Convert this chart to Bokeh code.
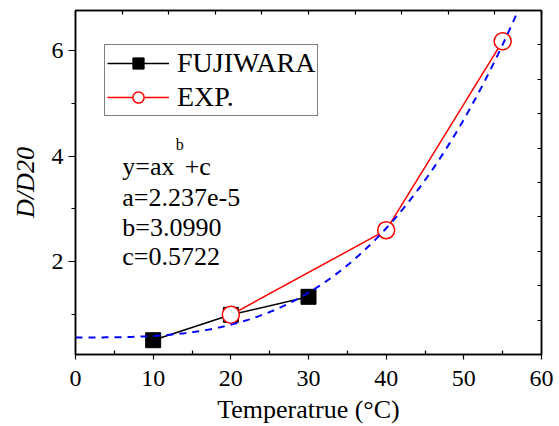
import numpy as np
from bokeh.plotting import figure
from bokeh.models import LinearAxis, FixedTicker, Legend, LegendItem, Label, Range1d
from bokeh.embed import file_html
from bokeh.resources import INLINE

# ---- data ----
fuji_t = [10, 20, 30]
fuji_r = [0.52, 1.0, 1.34]
exp_t = [20, 40, 55]
exp_r = [1.0, 2.6, 6.17]
# fitted model shown on the chart: y = a*x^b + c
fit_a = 2.237e-5
fit_b = 3.0990
fit_c = 0.5722
x_ticks = [0, 10, 20, 30, 40, 50, 60]
y_ticks = [2, 4, 6]
x_lim = (0, 60)
y_lim = (0.25, 6.75)

FONT = "Liberation Serif"

p = figure(width=559, height=426,
           x_range=Range1d(*x_lim), y_range=Range1d(*y_lim),
           output_backend="svg", toolbar_location=None,
           min_border_left=75, min_border_right=18,
           min_border_top=10, min_border_bottom=72)
p.xgrid.visible = False
p.ygrid.visible = False
p.outline_line_color = "black"
p.outline_line_width = 1.5
p.background_fill_color = "white"
p.border_fill_color = "white"

# series
l1 = p.line(fuji_t, fuji_r, line_color="black", line_width=1.5)
s1 = p.scatter(fuji_t, fuji_r, marker="square", size=15,
               fill_color="black", line_color="black")
l2 = p.line(exp_t, exp_r, line_color="red", line_width=1.5)
s2 = p.scatter(exp_t, exp_r, marker="circle", size=17,
               fill_color="white", line_color="red", line_width=1.5)

fit_x = np.linspace(x_lim[0], x_lim[1], 301)
fit_y = fit_a * fit_x ** fit_b + fit_c
p.line(fit_x, fit_y, line_color="blue", line_width=2, line_dash="7 6")

# axes
xa = p.xaxis[0]
xa.ticker = FixedTicker(ticks=x_ticks, minor_ticks=[t + 5 for t in x_ticks[:-1]])
xa.axis_label = "Temperatrue (°C)"
ya = p.yaxis[0]
ya.ticker = FixedTicker(ticks=y_ticks, minor_ticks=[t - 1 for t in y_ticks])
ya.axis_label = "D/D20"

for ax in (xa, ya):
    ax.axis_line_color = "black"
    ax.axis_line_width = 1.5
    ax.major_tick_line_color = "black"
    ax.minor_tick_line_color = "black"
    ax.major_tick_line_width = 1.2
    ax.minor_tick_line_width = 1.2
    ax.major_label_text_font = FONT
    ax.major_label_text_font_size = "24px"
    ax.major_label_text_color = "black"
    ax.axis_label_text_font = FONT
    ax.axis_label_text_font_size = "26px"
    ax.axis_label_text_color = "black"

xa.major_tick_in = 0
xa.major_tick_out = 5
xa.minor_tick_in = 4
xa.minor_tick_out = 0
xa.major_label_standoff = 11
xa.axis_label_standoff = 6
xa.axis_label_text_font_style = "normal"

ya.major_tick_in = 0
ya.major_tick_out = 7
ya.minor_tick_in = 0
ya.minor_tick_out = 4
ya.major_label_standoff = 5
ya.axis_label_standoff = 9
ya.axis_label_text_font_style = "italic"

# mirrored top / right axes with ten even divisions, ticks inward, no labels
top_ticks = [x_lim[0] + i * (x_lim[1] - x_lim[0]) / 10 for i in range(11)]
right_ticks = [y_lim[0] + i * (y_lim[1] - y_lim[0]) / 10 for i in range(11)]
for ticks, side in ((top_ticks, "above"), (right_ticks, "right")):
    ax = LinearAxis(ticker=FixedTicker(ticks=ticks, minor_ticks=[]),
                    major_label_overrides={t: "" for t in ticks},
                    major_label_text_font_size="1px",
                    major_label_text_color=None,
                    major_label_standoff=0,
                    major_tick_in=4, major_tick_out=0,
                    minor_tick_in=0, minor_tick_out=0,
                    axis_line_color="black", axis_line_width=1.5,
                    major_tick_line_color="black", major_tick_line_width=1.2)
    p.add_layout(ax, side)

# legend
legend = Legend(items=[LegendItem(label="FUJIWARA", renderers=[l1, s1]),
                       LegendItem(label="EXP.", renderers=[l2, s2])],
                location=(29, 238), orientation="vertical",
                glyph_width=62, glyph_height=28, label_height=28,
                label_standoff=8, padding=2, spacing=2, margin=0,
                label_text_font=FONT, label_text_font_size="28px",
                label_text_color="black",
                border_line_color="black", border_line_width=1.2,
                background_fill_color="white", background_fill_alpha=1.0)
p.add_layout(legend, "center")

# fit annotation text
ann = dict(text_font=FONT, text_color="black", text_baseline="alphabetic",
           text_align="left")
p.add_layout(Label(x=6.03, y=3.805, text="y=ax", text_font_size="26px", **ann))
p.add_layout(Label(x=12.9, y=4.21, text="b", text_font_size="16px", **ann))
p.add_layout(Label(x=14.06, y=3.805, text="+c", text_font_size="26px", **ann))
p.add_layout(Label(x=6.03, y=3.225, text=f"a={fit_a:.3e}".replace("e-05", "e-5"),
                   text_font_size="26px", **ann))
p.add_layout(Label(x=6.03, y=2.659, text=f"b={fit_b:.4f}", text_font_size="26px", **ann))
p.add_layout(Label(x=6.03, y=2.106, text=f"c={fit_c:.4f}", text_font_size="26px", **ann))

open("out.html", "w").write(file_html(p, INLINE))
